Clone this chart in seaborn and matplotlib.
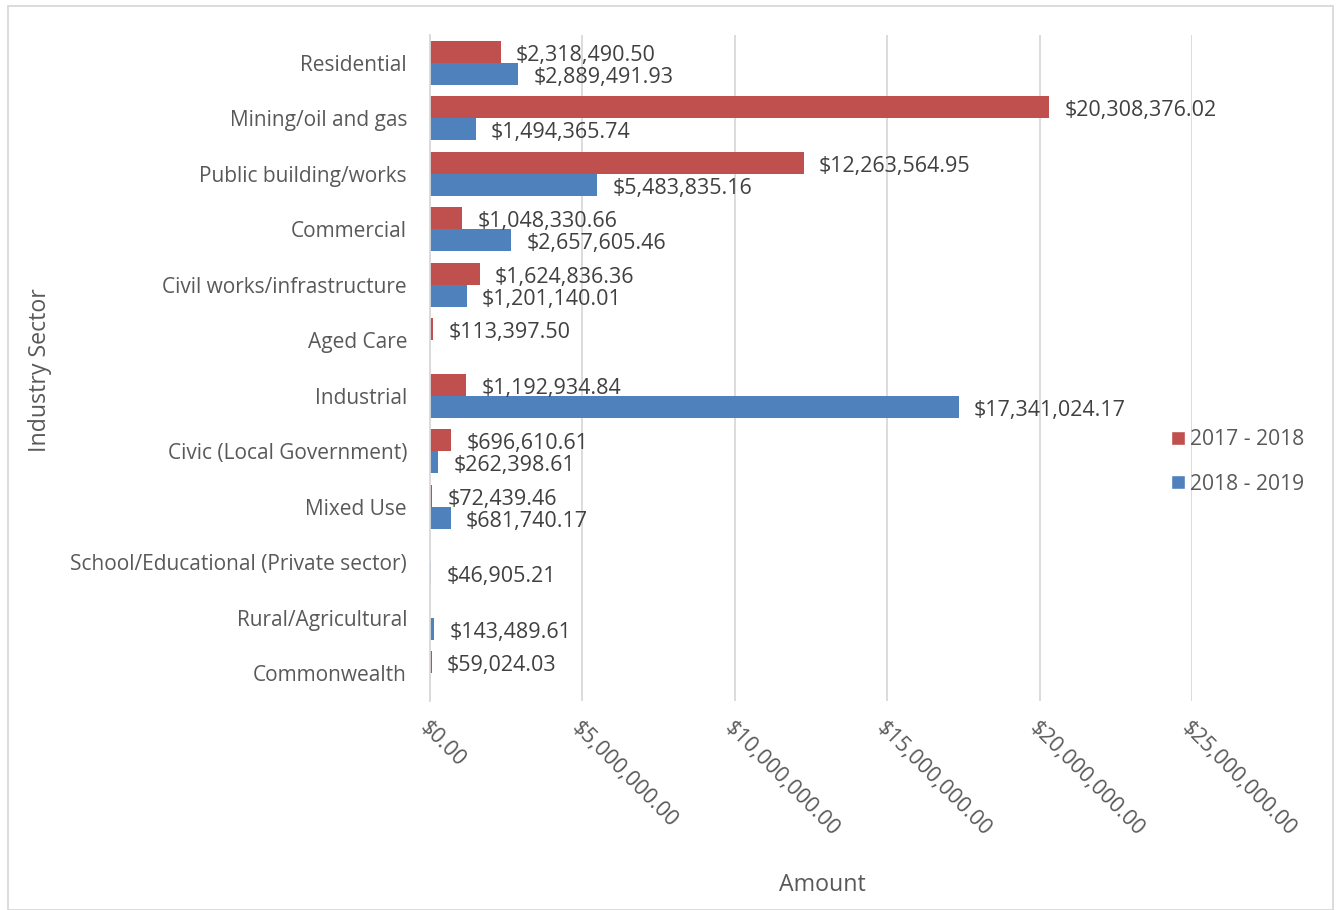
"""
Industry sector amounts, 2017-18 vs 2018-19, horizontal grouped bars.
"""

import numpy as np
import pandas as pd
import matplotlib
matplotlib.use("Agg")
import matplotlib.pyplot as plt
from matplotlib.patches import Patch, Rectangle
from matplotlib.ticker import FuncFormatter
import seaborn as sns

# ---------------------------------------------------------------------------
# Data
# ---------------------------------------------------------------------------
SECTORS = [
    "Residential",
    "Mining/oil and gas",
    "Public building/works",
    "Commercial",
    "Civil works/infrastructure",
    "Aged Care",
    "Industrial",
    "Civic (Local Government)",
    "Mixed Use",
    "School/Educational (Private sector)",
    "Rural/Agricultural",
    "Commonwealth",
]
PERIODS = ["2017 - 2018", "2018 - 2019"]

AMOUNT_1718 = [2318490.50, 20308376.02, 12263564.95, 1048330.66, 1624836.36,
               113397.50, 1192934.84, 696610.61, 72439.46, np.nan, np.nan,
               59024.03]
AMOUNT_1819 = [2889491.93, 1494365.74, 5483835.16, 2657605.46, 1201140.01,
               np.nan, 17341024.17, 262398.61, 681740.17, 46905.21, 143489.61,
               np.nan]

X_TICKS = [0, 5e6, 10e6, 15e6, 20e6, 25e6]

RED  = "#C0504D"
BLUE = "#4F81BD"
GREY = "#595959"
FONT = ["Open Sans", "DejaVu Sans"]


def main():
    df = pd.DataFrame({
        "sector": SECTORS * 2,
        "period": [PERIODS[0]] * len(SECTORS) + [PERIODS[1]] * len(SECTORS),
        "amount": AMOUNT_1718 + AMOUNT_1819,
    }).dropna()

    sns.set_theme(style="white")
    plt.rcParams["font.family"] = FONT

    fig = plt.figure(figsize=(13.4, 9.1), dpi=100)
    ax = fig.add_axes([0.3209, 0.2297, 0.5687, 0.7318])

    sns.barplot(data=df, y="sector", x="amount", hue="period",
                order=SECTORS, hue_order=PERIODS,
                palette=[RED, BLUE], orient="h", width=0.8,
                saturation=1, linewidth=0, ax=ax, legend=False)

    for c in ax.containers:
        labels = [f"${v:,.2f}" for v in c.datavalues]
        txts = ax.bar_label(c, labels=labels, padding=11, fontsize=15.5,
                            color="#404040")
        for t in txts:
            t.set_va("center")
            t.xyann = (11, -2.5)   # nudge down a touch

    ax.set_xlim(0, 25e6)
    ax.set_ylim(len(SECTORS) - 0.5, -0.5)
    ax.set_xticks(X_TICKS)
    ax.xaxis.set_major_formatter(FuncFormatter(lambda v, _: f"${v:,.2f}"))
    ax.grid(axis="x", color="#D9D9D9", linewidth=1.3)
    ax.set_axisbelow(True)

    for s in ["top", "right", "bottom"]:
        ax.spines[s].set_visible(False)
    ax.spines["left"].set_color("#D9D9D9")
    ax.spines["left"].set_linewidth(1.3)

    ax.tick_params(axis="y", length=0, pad=16.5, labelsize=15, labelcolor=GREY)
    ax.tick_params(axis="x", length=0, pad=12, labelsize=15.5, labelcolor=GREY)
    for t in ax.get_xticklabels():
        t.set_rotation(-45)
        t.set_ha("left")
        t.set_va("top")
        t.set_rotation_mode("anchor")

    ax.set_xlabel("")
    ax.set_ylabel("")
    fig.text(822 / 1340, 1 - 885 / 910, "Amount", ha="center", va="center",
             fontsize=16.7, color=GREY)
    fig.text(40 / 1340, 1 - 370 / 910, "Industry Sector", ha="center",
             va="center", rotation=90, fontsize=16.7, color=GREY)

    handles = [Patch(facecolor=RED, label=PERIODS[0]),
               Patch(facecolor=BLUE, label=PERIODS[1])]
    leg = fig.legend(handles=handles, loc="center left",
                     bbox_to_anchor=(1152 / 1340, 1 - 462 / 910),
                     frameon=False, fontsize=15.2, handlelength=0.65,
                     handleheight=0.65, handletextpad=0.25, labelspacing=1.1)
    for t in leg.get_texts():
        t.set_color(GREY)

    fig.patches.append(Rectangle((8 / 1340, 0), 1325 / 1340, 1 - 6 / 910,
                                 transform=fig.transFigure, fill=False,
                                 edgecolor="#D9D9D9", linewidth=1.3))

    fig.savefig("out.png", dpi=100)
    plt.close(fig)


if __name__ == "__main__":
    main()
